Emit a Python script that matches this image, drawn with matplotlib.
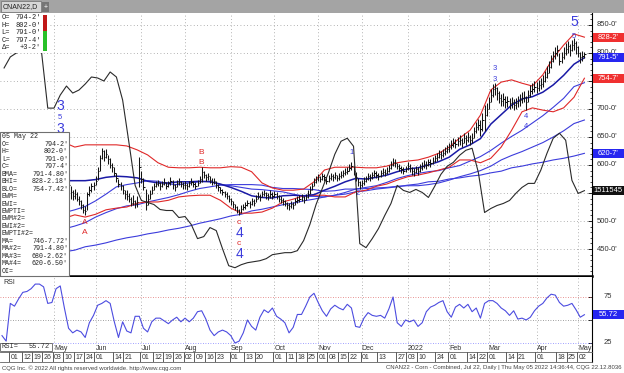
"""
CNAN22 daily chart (CQG style): OHLC bars, Bollinger, moving averages,
open interest and RSI. Saves out.png at 624x373.
"""
import numpy as np
import pandas as pd
import matplotlib
matplotlib.use("Agg")
import matplotlib.pyplot as plt
from matplotlib.patches import Rectangle
from matplotlib.transforms import blended_transform_factory as blend

# --- palette ---
BAR   = "#141414"
RED   = "#e02828"
BLUE  = "#3c3cdc"
NAVY  = "#1a1aa6"
OICOL = "#2a2a2a"
GRID  = "#9a9a9a"
TXT   = "#333333"
RSIC  = "#4c4ce0"

plt.rcParams.update({"font.family": "Liberation Sans", "font.size": 6})

W, H = 624, 373

# --- sessions ---
HOLIDAYS = ["2021-04-02", "2021-05-31", "2021-07-05", "2021-09-06", "2021-11-25",
            "2021-12-24", "2022-01-17", "2022-02-21", "2022-04-15"]
START, END = "2021-03-26", "2022-05-05"

# --- daily bars (cents), one row per month ---
bar_cl = [
    470, 474, 478, 508,
    505, 498, 495, 500, 504, 508, 506, 511, 516, 522, 528, 535, 540, 546, 550, 545, 552, 560, 568, 575, 570,
    585, 598, 615, 628, 622, 600, 585, 565, 552, 545, 548, 540, 535, 528, 520, 518, 548, 555, 562, 565,
    572, 590, 612, 625, 615, 620, 610, 600, 596, 585, 576, 566, 562, 555, 548, 545, 540, 532, 536, 530, 534, 596,
    575, 560, 528, 540, 548, 556, 562, 566, 568, 562, 566, 570, 563, 567, 572, 565, 560, 568, 570, 566, 564,
    565, 562, 567, 570, 566, 563, 568, 575, 588, 582, 578, 580, 574, 570, 572, 565, 560, 555, 552, 548, 545, 540,
    535, 530, 525, 520, 515, 522, 525, 528, 532, 530, 535, 533, 540, 545, 542, 548, 550, 546, 544, 548, 545,
    548, 545, 540, 538, 535, 532, 528, 526, 530, 528, 535, 538, 540, 542, 538, 543, 548, 555, 562, 570, 575,
    578, 575, 580, 578, 572, 576, 580, 578, 582, 577, 580, 583, 585, 588, 590, 595, 598, 590, 578, 570, 565,
    568, 572, 575, 580, 578, 582, 585, 583, 580, 585, 588, 586, 590, 594, 600, 605, 603, 598, 595, 592, 590, 593,
    598, 595, 590, 588, 592, 590, 595, 598, 602, 600, 605, 603, 608, 612, 615, 620, 618, 622, 625, 628,
    632, 636, 640, 638, 642, 645, 640, 648, 644, 650, 645, 648, 660, 668, 672, 665, 680, 690, 700,
    712, 725, 735, 738, 728, 720, 715, 718, 712, 714, 710, 712, 708, 710, 714, 716, 720, 722, 712, 725, 732, 736, 740,
    738, 742, 745, 750, 758, 765, 775, 785, 795, 800, 805, 785, 792, 800, 808, 812, 805, 815, 818, 810,
    800, 792, 794.25, 797.5,
]
bar_hi = [
    476, 480, 484, 512,
    512, 506, 500, 505, 509, 512, 511, 515, 520, 527, 532, 540, 545, 551, 556, 552, 556, 565, 572, 580, 578,
    590, 604, 622, 640, 632, 615, 600, 585, 562, 556, 558, 552, 545, 538, 530, 526, 552, 562, 568, 570,
    580, 596, 618, 630, 626, 628, 618, 612, 604, 596, 586, 575, 570, 565, 556, 555, 550, 542, 546, 538, 545, 614,
    590, 576, 558, 548, 555, 562, 568, 572, 574, 570, 572, 576, 570, 572, 578, 573, 566, 574, 576, 572, 570,
    571, 568, 572, 576, 572, 569, 574, 580, 596, 590, 584, 586, 580, 576, 577, 572, 566, 561, 558, 554, 551, 546,
    541, 536, 531, 526, 521, 528, 531, 534, 538, 536, 541, 539, 546, 551, 548, 554, 556, 552, 550, 555, 552,
    554, 551, 546, 544, 541, 538, 534, 532, 536, 534, 541, 544, 546, 548, 544, 549, 555, 562, 568, 577, 581,
    584, 581, 586, 584, 578, 582, 586, 584, 588, 583, 586, 589, 591, 594, 597, 601, 606, 598, 588, 576, 572,
    574, 578, 581, 586, 584, 588, 591, 589, 586, 591, 594, 592, 596, 600, 607, 612, 610, 604, 601, 598, 596, 599,
    606, 602, 597, 594, 598, 597, 601, 605, 609, 607, 611, 610, 614, 618, 622, 627, 625, 629, 632, 635,
    640, 644, 648, 646, 650, 654, 649, 657, 653, 659, 654, 657, 668, 677, 682, 680, 692, 707, 710,
    722, 736, 745, 746, 740, 732, 726, 728, 723, 724, 720, 722, 718, 720, 724, 726, 730, 732, 724, 734, 742, 746, 750,
    748, 752, 755, 760, 768, 776, 786, 796, 804, 810, 815, 800, 802, 810, 818, 822, 816, 824, 826, 822,
    812, 802, 804, 802,
]
bar_lo = [
    464, 468, 472, 478,
    500, 494, 489, 494, 499, 503, 501, 505, 510, 516, 522, 529, 534, 540, 543, 540, 546, 553, 561, 568, 564,
    572, 588, 600, 615, 615, 595, 578, 560, 540, 538, 540, 535, 528, 522, 514, 510, 520, 545, 552, 556,
    565, 574, 590, 610, 608, 612, 602, 595, 588, 580, 570, 560, 555, 548, 540, 538, 534, 526, 528, 524, 525, 560,
    568, 555, 520, 528, 540, 548, 556, 560, 562, 556, 560, 564, 558, 560, 565, 558, 554, 560, 564, 560, 558,
    558, 556, 561, 564, 560, 557, 562, 567, 570, 576, 572, 574, 568, 564, 566, 559, 554, 550, 546, 542, 539, 534,
    529, 524, 519, 514, 510, 515, 519, 522, 526, 524, 529, 527, 534, 539, 536, 542, 544, 540, 538, 541, 539,
    542, 539, 534, 532, 529, 526, 522, 520, 524, 522, 528, 532, 534, 536, 532, 537, 541, 548, 555, 562, 568,
    571, 569, 573, 572, 566, 570, 574, 572, 575, 571, 574, 577, 579, 582, 584, 589, 591, 583, 572, 563, 558,
    561, 565, 569, 573, 572, 575, 579, 577, 574, 578, 582, 580, 584, 588, 593, 598, 596, 592, 589, 586, 584, 587,
    591, 588, 583, 581, 585, 583, 588, 591, 595, 593, 598, 596, 601, 605, 608, 613, 611, 615, 618, 621,
    624, 628, 632, 630, 634, 636, 632, 639, 635, 641, 636, 639, 648, 658, 662, 652, 660, 660, 688,
    700, 712, 722, 725, 716, 710, 705, 706, 701, 703, 700, 702, 699, 700, 704, 706, 710, 712, 698, 712, 722, 726, 730,
    728, 732, 735, 740, 748, 755, 764, 774, 784, 790, 794, 778, 782, 790, 797, 800, 795, 804, 806, 798,
    792, 782, 786, 791,
]

# --- studies, read every 5th session ---
bhi = [520, 525, 530, 545, 565, 590, 640, 632, 636, 636, 636, 636, 634, 627, 618, 604, 596, 595, 595,
       596, 595, 595, 597, 596, 588, 568, 559, 555, 555, 557, 570, 591, 596, 596, 596, 595, 595, 598,
       604, 607, 609, 614, 621, 632, 648, 662, 689, 734, 748, 752, 746, 741, 761, 791, 814, 834, 828.2725]
blo = [455, 460, 465, 475, 490, 500, 505, 511, 507, 512, 520, 523, 525, 532, 534, 534, 537, 543, 545,
       546, 546, 537, 523, 514, 514, 516, 523, 534, 539, 545, 546, 546, 543, 543, 552, 555, 562, 566,
       573, 579, 582, 586, 591, 596, 609, 609, 604, 612, 632, 662, 695, 702, 698, 695, 702, 721, 754.9275]
bma = [488, 492, 498, 510, 528, 545, 572, 572, 572, 574, 578, 580, 579, 577, 571, 568, 568, 570, 570,
       571, 570, 566, 560, 553, 545, 542, 541, 545, 546, 545, 547, 555, 562, 570, 576, 575, 578, 582,
       588, 593, 595, 600, 606, 614, 628, 636, 647, 673, 690, 707, 718, 722, 730, 743, 760, 780, 791.6]
ma1 = [480, 482, 486, 492, 500, 508, 515, 520, 526, 536, 548, 561, 565, 568, 572, 571, 566, 565, 568,
       570, 571, 565, 563, 560, 557, 556, 554, 552, 548, 544, 544, 543, 546, 551, 557, 560, 563, 569,
       576, 581, 585, 588, 590, 595, 599, 607, 615, 626, 639, 651, 662, 675, 688, 703, 719, 740, 746.965]
ma3 = [440, 448, 455, 463, 472, 480, 486, 491, 497, 507, 515, 522, 527, 529, 534, 538, 542, 547, 553,
       558, 561, 564, 565, 565, 565, 564, 560, 558, 558, 557, 556, 553, 554, 557, 557, 558, 559, 560,
       562, 563, 563, 565, 568, 573, 579, 584, 590, 598, 609, 617, 624, 632, 640, 650, 661, 674, 680.3275]
ma4 = [423, 427, 432, 436, 439, 441, 445, 448, 454, 457, 461, 466, 470, 473, 477, 480, 484, 487, 491,
       496, 500, 504, 509, 512, 518, 521, 525, 529, 532, 536, 539, 543, 546, 548, 552, 554, 557, 559,
       561, 564, 566, 570, 571, 575, 577, 580, 582, 586, 589, 595, 598, 602, 605, 609, 612, 616, 620.8125]

# --- open interest (thousands), every 3rd session from the 2nd ---
oi_k = [1756, 1778, 1786, 1792, 1796, 1796, 1788, 1676, 1676, 1702,
        1720, 1706, 1712, 1724, 1738, 1736, 1730, 1748, 1738, 1692,
        1608, 1522, 1492, 1488, 1484, 1474, 1472, 1472, 1458, 1460,
        1444, 1416, 1420, 1438, 1432, 1396, 1362, 1358, 1364, 1368,
        1370, 1372, 1376, 1384, 1386, 1388, 1388, 1392, 1412, 1444,
        1484, 1516, 1548, 1584, 1610, 1616, 1600, 1406, 1398, 1416,
        1436, 1462, 1486, 1522, 1512, 1508, 1514, 1508, 1498, 1520,
        1544, 1560, 1568, 1582, 1592, 1596, 1548, 1468, 1476, 1482,
        1486, 1492, 1506, 1518, 1526, 1526, 1552, 1586, 1616, 1626,
        1612, 1532, 1506, 1511.545]

# --- RSI, every 2nd session ---
rsi = [33, 27, 68, 65, 73, 80, 81, 84, 89, 89, 86, 68, 69, 84, 87, 63, 41, 36, 39, 37,
       31, 47, 55, 66, 68, 71, 68, 48, 31, 48, 38, 36, 54, 54, 41, 37, 48, 52, 52, 49,
       46, 50, 53, 48, 52, 48, 52, 59, 60, 51, 39, 33, 37, 39, 37, 33, 25, 27, 36, 50,
       43, 39, 53, 61, 58, 63, 54, 51, 47, 36, 42, 56, 56, 65, 75, 79, 69, 60, 54, 62,
       66, 63, 61, 67, 63, 43, 42, 52, 58, 55, 54, 55, 52, 62, 75, 47, 43, 50, 48, 50,
       43, 47, 59, 64, 66, 69, 71, 59, 53, 64, 67, 63, 67, 59, 63, 52, 68, 71, 71, 68,
       63, 60, 55, 60, 51, 52, 50, 53, 60, 65, 68, 74, 78, 77, 69, 65, 66, 68, 61, 53, 55.72]

MONTH_TEXT = ["May", "Jun", "Jul", "Aug", "Sep", "Oct", "Nov", "Dec", "2022", "Feb", "Mar", "Apr", "May"]
DAY_TICKS = ["2021-04-01", "2021-04-12", "2021-04-19", "2021-04-26", "2021-05-03", "2021-05-10",
             "2021-05-17", "2021-05-24", "2021-06-01", "2021-06-14", "2021-06-21", "2021-07-01",
             "2021-07-12", "2021-07-19", "2021-07-26", "2021-08-02", "2021-08-09", "2021-08-16",
             "2021-08-23", "2021-09-01", "2021-09-13", "2021-09-20", "2021-10-01", "2021-10-11",
             "2021-10-18", "2021-10-25", "2021-11-01", "2021-11-08", "2021-11-15", "2021-11-22",
             "2021-12-01", "2021-12-13", "2021-12-27", "2022-01-03", "2022-01-10", "2022-01-24",
             "2022-02-01", "2022-02-14", "2022-02-22", "2022-03-01", "2022-03-14", "2022-03-21",
             "2022-04-01", "2022-04-18", "2022-04-25", "2022-05-02"]
# scale labels that stay visible (the others sit under the value tags)
PRICE_LABELS = [450, 500, 600, 650, 700, 800, 850]
RSI_LABELS = [25, 75]

sessions = pd.bdate_range(START, END, freq="C", holidays=HOLIDAYS)
idx = np.arange(len(sessions))
wk = idx[::5]
newmonth = np.flatnonzero(sessions.month != np.roll(sessions.month, 1))
month_idx = [m for m in newmonth if sessions[m] >= pd.Timestamp("2021-05-01")]


def eighths(v):
    whole = int(v)
    return f"{whole}-{int((v - whole) * 8 + 0.5)}'"


def eighths_long(v):
    whole = int(v)
    return f"{whole}-{(v - whole) * 8:.2f}'"


def box(x0, y0, x1, y1):
    return [x0 / W, 1 - y1 / H, (x1 - x0) / W, (y1 - y0) / H]


def fy(y):
    return 1 - y / H


fig = plt.figure(figsize=(W / 100, H / 100), dpi=100)
fig.patch.set_facecolor("white")
XLIM = (-0.96, 283.65)

# ============================================================================
# Price panel
# ============================================================================
ax = fig.add_axes(box(0, 13, 592, 276))
ax.set_xlim(*XLIM)
ax.set_ylim(401.8, 871.4)
for s in ("top", "left"):
    ax.spines[s].set_visible(False)
ax.spines["right"].set_color("black")
ax.spines["bottom"].set_linewidth(1.8)
ax.yaxis.set_ticks_position("right")
ax.set_yticks(np.arange(450, 851, 50))
ax.set_yticks(np.arange(410, 871, 10), minor=True)
ax.tick_params(axis="y", which="major", direction="in", length=3, width=0.6, labelright=False)
ax.tick_params(axis="y", which="minor", direction="in", length=1.5, width=0.5)
ax.tick_params(axis="x", bottom=False, labelbottom=False)

for p in np.arange(450, 851, 50):
    ax.axhline(p, color=GRID, lw=0.6, ls=(0, (1, 3)), zorder=0)
for m in month_idx:
    ax.axvline(m, color=GRID, lw=0.6, ls=(0, (1, 3)), zorder=0)

ax.plot(wk, ma4, color=BLUE, lw=0.8, zorder=2)
ax.plot(wk, ma3, color=BLUE, lw=0.8, zorder=2)
ax.plot(wk, ma1, color=BLUE, lw=0.8, zorder=2)
ax.plot(wk, bhi, color=RED, lw=0.8, zorder=2)
ax.plot(wk, blo, color=RED, lw=0.8, zorder=2)
ax.plot(wk, bma, color=NAVY, lw=1.1, zorder=2)
ax.vlines(idx, bar_lo, bar_hi, color=BAR, lw=0.75, zorder=3)
ax.hlines(bar_cl, idx, idx + 0.6, color=BAR, lw=0.75, zorder=3)

# wave counts
waves = [(28, 705, "3", BLUE, 10), (28, 684, "5", BLUE, 5.5), (28, 664, "3", BLUE, 10),
         (40, 497, "A", RED, 6), (40, 479, "A", RED, 6),
         (96, 622, "B", RED, 6), (96, 604, "B", RED, 6),
         (114, 498, "c", RED, 6), (114, 479, "4", BLUE, 10), (114, 460, "c", RED, 6), (114, 441, "4", BLUE, 10),
         (168, 623, "1", BLUE, 5.5), (171, 549, "2", BLUE, 5.5),
         (237, 773, "3", BLUE, 5.5), (237, 752, "3", BLUE, 5.5),
         (252, 687, "4", BLUE, 5.5), (252, 668, "4", BLUE, 5.5),
         (275, 855, "5", BLUE, 10), (275, 829, "5", BLUE, 5.5)]
for xi, yv, t, c, sz in waves:
    ax.text(xi, yv, t, color=c, fontsize=sz, ha="center", va="center", zorder=4)

# open interest on its own scale
ax_oi = fig.add_axes(box(0, 13, 592, 276), sharex=ax)
ax_oi.set_ylim(1341.5, 1865.5)
ax_oi.axis("off")
ax_oi.patch.set_alpha(0)
ax_oi.plot(idx[1::3], oi_k, color=OICOL, lw=0.8)

# right-hand price scale
tr = blend(fig.transFigure, ax.transData)
for p in PRICE_LABELS:
    ax.text(597 / W, p, eighths(p), transform=tr, fontsize=5.5, color=TXT,
            va="center", ha="left", clip_on=False)


def tag(axis, value, text, fc, half):
    t = blend(fig.transFigure, axis.transData)
    axis.add_patch(Rectangle((593 / W, value - half), 31 / W, 2 * half, transform=t,
                             facecolor=fc, edgecolor="none", clip_on=False, zorder=6))
    axis.text(608.5 / W, value, text, transform=t, color="white", fontsize=5.5,
              ha="center", va="center", clip_on=False, zorder=7)


HALF = 4.5 * 469.6 / 263
tag(ax, bhi[-1], eighths(bhi[-1]), "#f03030", HALF)
tag(ax, bma[-1], eighths(bma[-1]), "#2626f0", HALF)
tag(ax, blo[-1], eighths(blo[-1]), "#f03030", HALF)
tag(ax, ma4[-1], eighths(ma4[-1]), "#2626f0", HALF)
tag(ax_oi, oi_k[-1], f"{oi_k[-1] * 1000:.0f}", "#111111", 4.5 * 524 / 263)

# ============================================================================
# RSI panel
# ============================================================================
ax_r = fig.add_axes(box(0, 277, 592, 352), sharex=ax)
ax_r.set_ylim(15.2, 96.7)
for s in ("top", "left", "bottom"):
    ax_r.spines[s].set_visible(False)
ax_r.yaxis.set_ticks_position("right")
ax_r.set_yticks([25, 50, 75])
ax_r.tick_params(axis="y", direction="in", length=3, width=0.6, labelright=False)
ax_r.tick_params(axis="x", bottom=False, labelbottom=False)
ax_r.axhline(75, color="#e07070", lw=0.6, ls=(0, (1, 2)))
ax_r.axhline(50, color="#808080", lw=0.6, ls=(0, (1, 2)))
ax_r.axhline(25, color="#8080ff", lw=0.6, ls=(0, (1, 2)))
for m in month_idx:
    ax_r.axvline(m, color=GRID, lw=0.6, ls=(0, (1, 3)), zorder=0)
ax_r.plot(idx[::2], rsi, color=RSIC, lw=0.8)
for m, t in zip(month_idx, MONTH_TEXT):
    ax_r.text(m, 19.3, t, fontsize=5, color=TXT, ha="left", va="center")

trr = blend(fig.transFigure, ax_r.transData)
for v in RSI_LABELS:
    ax_r.text(604 / W, v, f"{v}", transform=trr, fontsize=5.5, color=TXT,
              va="center", ha="left", clip_on=False)
tag(ax_r, rsi[-1], f"{rsi[-1]:.2f}", "#2626f0", 4.5 * 81.5 / 75)

fig.text(3 / W, fy(283), "RSI", fontsize=5, color=TXT, va="center")
fig.add_artist(Rectangle((0, fy(351)), 52 / W, 8 / H, transform=fig.transFigure,
                         facecolor="white", edgecolor="#606060", lw=0.6, zorder=5))
fig.text(2 / W, fy(347), "RSI=", fontsize=5, family="Liberation Mono", color=TXT,
         va="center", zorder=6)
fig.text(50 / W, fy(347), f"{rsi[-1]:.2f}", fontsize=5, family="Liberation Mono",
         color=TXT, va="center", ha="right", zorder=6)

# ============================================================================
# Date row
# ============================================================================
ax_d = fig.add_axes(box(0, 352, 592, 362), sharex=ax)
ax_d.set_ylim(0, 1)
ax_d.set_xticks([])
ax_d.set_yticks([])
ax_d.spines["left"].set_visible(False)
for s in ("top", "bottom"):
    ax_d.spines[s].set_color("#606060")
    ax_d.spines[s].set_linewidth(0.6)
for d in DAY_TICKS:
    i = sessions.get_loc(pd.Timestamp(d))
    ax_d.axvline(i - 0.6, color="#404040", lw=0.6)
    ax_d.text(i + 0.1, 0.45, pd.Timestamp(d).strftime("%d"), fontsize=5,
              color=TXT, ha="left", va="center")

# footer
fig.text(2 / W, fy(368), "CQG Inc. \u00a9 2022 All rights reserved worldwide. http://www.cqg.com",
         fontsize=4.3, color="#444444", va="center")
fig.text(622 / W, fy(368),
         "CNAN22 - Corn - Combined, Jul 22, Daily | Thu May 05 2022 14:36:44, CQG 22.12.8036",
         fontsize=4.3, color="#444444", va="center", ha="right")

# ============================================================================
# Overlays: tab bar, quote box, info box
# ============================================================================
fig.add_artist(Rectangle((0, fy(13)), 1, 13 / H, transform=fig.transFigure,
                         facecolor="#a4a4a4", edgecolor="none", zorder=5))
fig.add_artist(Rectangle((1 / W, fy(12)), 40 / W, 11 / H, transform=fig.transFigure,
                         facecolor="#d6d6d6", edgecolor="#7a7a7a", lw=0.6, zorder=6))
fig.text(3 / W, fy(6.8), "CNAN22,D", fontsize=5, color="#222222", va="center", zorder=7)
fig.add_artist(Rectangle((42 / W, fy(12)), 7 / W, 10 / H, transform=fig.transFigure,
                         facecolor="#767676", edgecolor="none", zorder=6))
fig.text(45.5 / W, fy(7), "+", fontsize=5, color="white", va="center", ha="center", zorder=7)

last_o, last_h, last_l, last_c = 794.25, bar_hi[-1], bar_lo[-1], bar_cl[-1]
quote = [("O=", eighths(last_o)), ("H=", eighths(last_h)), ("L=", eighths(last_l)),
         ("C=", eighths(last_c)), ("\u0394=", "+" + eighths(last_c - bar_cl[-2]))]
fig.add_artist(Rectangle((0, fy(53)), 49 / W, 39 / H, transform=fig.transFigure,
                         facecolor="white", edgecolor="none", zorder=5))
for k, (lab, val) in enumerate(quote):
    yy = fy(17.5 + 7.6 * k)
    fig.text(1.5 / W, yy, lab, fontsize=5, family="Liberation Mono", color="#222222",
             va="center", zorder=6)
    fig.text(41 / W, yy, val, fontsize=5, family="Liberation Mono", color="#222222",
             va="center", ha="right", zorder=6)
fig.add_artist(Rectangle((43 / W, fy(31)), 4 / W, 16 / H, transform=fig.transFigure,
                         facecolor="#c01818", edgecolor="none", zorder=6))
fig.add_artist(Rectangle((43 / W, fy(51)), 4 / W, 20 / H, transform=fig.transFigure,
                         facecolor="#28c028", edgecolor="none", zorder=6))

info = [("05 May 22", ""), ("O=", eighths(last_o)), ("H=", eighths(last_h)),
        ("L=", eighths(last_l)), ("C=", eighths(last_c)),
        ("BMA=", eighths_long(bma[-1])), ("BHI=", eighths_long(bhi[-1])),
        ("BLO=", eighths_long(blo[-1])), ("EWM=", ""), ("EWI=", ""), ("EWPTI=", ""),
        ("EWM#2=", ""), ("EWI#2=", ""), ("EWPTI#2=", ""),
        ("MA=", eighths_long(ma1[-1])), ("MA#2=", eighths_long(bma[-1])),
        ("MA#3=", eighths_long(ma3[-1])), ("MA#4=", eighths_long(ma4[-1])), ("OI=", "")]
fig.add_artist(Rectangle((0, fy(276)), 69 / W, 144 / H, transform=fig.transFigure,
                         facecolor="white", edgecolor="#707070", lw=0.8, zorder=5))
for k, (lab, val) in enumerate(info):
    yy = fy(137 + 7.45 * k)
    fig.text(2 / W, yy, lab, fontsize=4.8, family="Liberation Mono", color="#222222",
             va="center", zorder=6)
    if val:
        fig.text(68 / W, yy, val, fontsize=4.8, family="Liberation Mono", color="#222222",
                 va="center", ha="right", zorder=6)

fig.savefig("out.png", dpi=100)
